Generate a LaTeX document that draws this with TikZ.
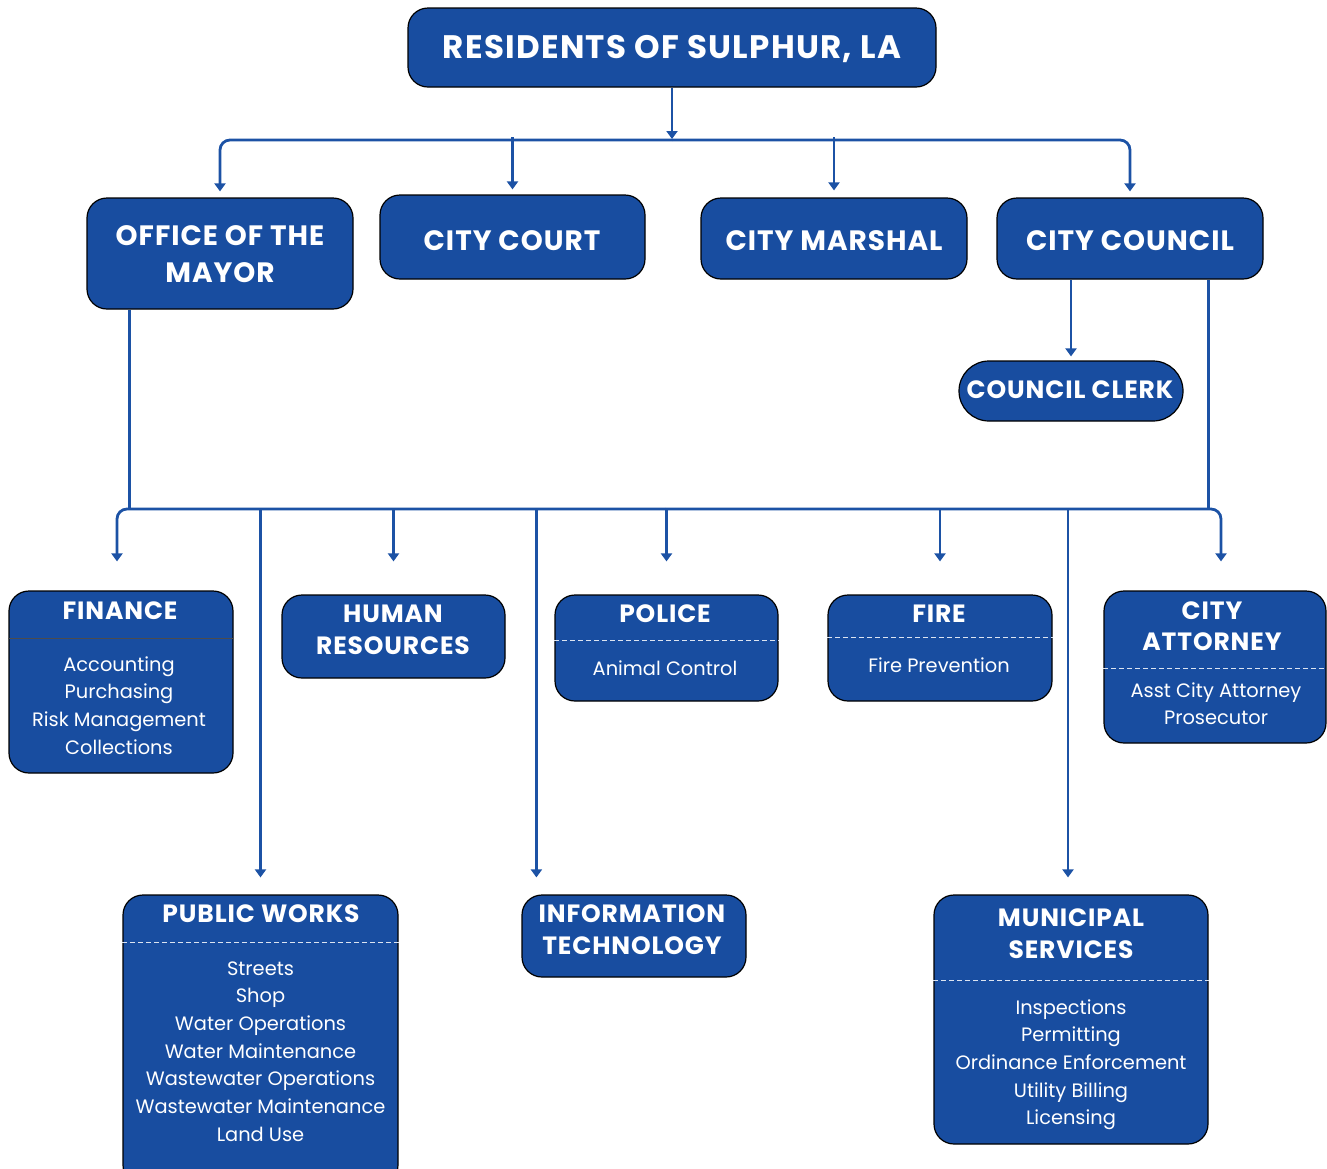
\documentclass[tikz,border=0pt]{standalone}
\usepackage{fontspec}
\setmainfont{Poppins}
\usetikzlibrary{arrows.meta}
\definecolor{boxblue}{RGB}{24,77,160}
\definecolor{lineblue}{RGB}{28,82,165}
\tikzset{
  box/.style={draw=black, line width=1.2pt, fill=boxblue, rounded corners=20pt, inner sep=0pt},
  hdA/.style={text=white, anchor=base, inner sep=0pt, font=\bfseries\fontsize{32.5}{32}\selectfont\addfontfeatures{LetterSpace=4}},
  hdB/.style={text=white, anchor=base, inner sep=0pt, font=\bfseries\fontsize{28}{28}\selectfont\addfontfeatures{LetterSpace=3.5}},
  hdC/.style={text=white, anchor=base, inner sep=0pt, font=\bfseries\fontsize{25}{25}\selectfont\addfontfeatures{LetterSpace=3.5}},
  bd/.style={text=white, anchor=base, inner sep=0pt, font=\fontsize{19.4}{20}\selectfont},
  conn/.style={draw=lineblue, line width=2.8pt},
  arr/.style={conn, -{Triangle[width=11pt,length=8pt]}},
  dashdiv/.style={draw=white!85!boxblue, line width=1pt, dash pattern=on 5pt off 3pt},
}
\begin{document}
\begin{tikzpicture}[x=1pt,y=-1pt]
\useasboundingbox (0,0) rectangle (1327,1168);
% boxes
\node[box, minimum width=528pt, minimum height=79pt] (res) at (672,47.5) {};
\node[box, minimum width=266pt, minimum height=111pt] (mayor) at (220,253.5) {};
\node[box, minimum width=265pt, minimum height=84pt] (court) at (512.5,237) {};
\node[box, minimum width=266pt, minimum height=81pt] (marshal) at (834,238.5) {};
\node[box, minimum width=266pt, minimum height=81pt] (council) at (1130,238.5) {};
\node[box, rounded corners=30pt, minimum width=224pt, minimum height=60pt] (clerk) at (1071,391) {};
\node[box, minimum width=224pt, minimum height=182pt] (finance) at (121,682) {};
\node[box, minimum width=223pt, minimum height=83pt] (hr) at (393.5,636.5) {};
\node[box, minimum width=223pt, minimum height=106pt] (police) at (666.5,648) {};
\node[box, minimum width=224pt, minimum height=106pt] (fire) at (940,648) {};
\node[box, minimum width=222pt, minimum height=152pt] (attorney) at (1215,667) {};
\node[box, minimum width=275pt, minimum height=290pt] (pw) at (260.5,1040) {};
\node[box, minimum width=224pt, minimum height=82pt] (it) at (634,936) {};
\node[box, minimum width=274pt, minimum height=249pt] (muni) at (1071,1019.5) {};
% dividers
\draw[draw=black!70, line width=0.8pt] (finance.west |- 0,638) coordinate (fd1) -- (finance.east |- fd1);
\draw[dashdiv] (police.west |- 0,640) coordinate (pd1) -- (police.east |- pd1);
\draw[dashdiv] (fire.west |- 0,637) coordinate (fd2) -- (fire.east |- fd2);
\draw[dashdiv] (attorney.west |- 0,668) coordinate (ad1) -- (attorney.east |- ad1);
\draw[dashdiv] (pw.west |- 0,942) coordinate (wd1) -- (pw.east |- wd1);
\draw[dashdiv] (muni.west |- 0,980) coordinate (md1) -- (muni.east |- md1);
% headings
\node[hdA] (tres) at (672,58.5) {RESIDENTS OF SULPHUR, LA};
\node[hdB] (tmay1) at (220,245) {OFFICE OF THE};
\node[hdB] (tmay2) at (220,282) {MAYOR};
\node[hdB] (tcourt) at (512,250) {CITY COURT};
\node[hdB] (tmar) at (834,250) {CITY MARSHAL};
\node[hdB] (tcou) at (1130,250) {CITY COUNCIL};
\node[hdC] (tclerk) at (1070,398.5) {COUNCIL CLERK};
\node[hdC] (tfin) at (120,619) {FINANCE};
\node[hdC] (thr1) at (393,622.5) {HUMAN};
\node[hdC] (thr2) at (393,654.5) {RESOURCES};
\node[hdC] (tpol) at (665,622.5) {POLICE};
\node[hdC] (tfire) at (939,622.5) {FIRE};
\node[hdC] (tatt1) at (1212,619.5) {CITY};
\node[hdC] (tatt2) at (1212,650.5) {ATTORNEY};
\node[hdC] (tpw) at (261,922.5) {PUBLIC WORKS};
\node[hdC] (tit1) at (632,922.5) {INFORMATION};
\node[hdC] (tit2) at (632,954.5) {TECHNOLOGY};
\node[hdC] (tmu1) at (1071,926.5) {MUNICIPAL};
\node[hdC] (tmu2) at (1071,958.5) {SERVICES};
% body text
\foreach \t [count=\i] in {Accounting,Purchasing,Risk Management,Collections}
  \node[bd] (bfin\i) at (119,671+27.7*\i-27.7) {\t};
\node[bd] (bpol) at (665,675) {Animal Control};
\node[bd] (bfire) at (939,672) {Fire Prevention};
\foreach \t [count=\i] in {Asst City Attorney,Prosecutor}
  \node[bd] (batt\i) at (1216,697+27.5*\i-27.5) {\t};
\foreach \t [count=\i] in {Streets,Shop,Water Operations,Water Maintenance,Wastewater Operations,Wastewater Maintenance,Land Use}
  \node[bd] (bpw\i) at (260.5,975+27.7*\i-27.7) {\t};
\foreach \t [count=\i] in {Inspections,Permitting,Ordinance Enforcement,Utility Billing,Licensing}
  \node[bd] (bmu\i) at (1071,1014+27.7*\i-27.7) {\t};
% connectors top
\coordinate (bus1) at (672,140);
\draw[arr, shorten >=1pt] (res.south) -- (bus1);
\draw[arr, rounded corners=10pt, shorten >=6pt] (bus1) -| (mayor.north);
\draw[arr, rounded corners=10pt, shorten >=6pt] (bus1) -| (council.north);
\draw[arr, shorten >=5pt] ([yshift=3pt]court.north |- bus1) -- (court.north);
\draw[arr, shorten >=7pt] ([yshift=3pt]marshal.north |- bus1) -- (marshal.north);
\draw[arr, shorten >=4pt] ([xshift=-59pt]council.south) -- ([xshift=-59pt]council.south |- clerk.north);
% second bus
\coordinate (bus2) at (665,509);
\draw[conn] ([xshift=43pt]mayor.south west) -- ([xshift=43pt]mayor.south west |- bus2);
\draw[conn] ([xshift=-55pt]council.south east) -- ([xshift=-55pt]council.south east |- bus2);
\draw[arr, rounded corners=10pt, shorten >=29pt] (bus2) -| ([xshift=-4pt]finance.north);
\draw[arr, rounded corners=10pt, shorten >=29pt] (bus2) -| ([xshift=6pt]attorney.north);
\draw[arr, shorten >=33pt] ([yshift=1pt]hr.north |- bus2) -- (hr.north);
\draw[arr, shorten >=33pt] ([yshift=1pt]police.north |- bus2) -- (police.north);
\draw[arr, shorten >=33pt] ([yshift=1pt]fire.north |- bus2) -- (fire.north);
\draw[arr, shorten >=17pt] ([yshift=1pt]pw.north |- bus2) -- (pw.north);
\draw[arr, shorten >=17pt] ([yshift=1pt,xshift=15pt]it.north west |- bus2) -- ([xshift=15pt]it.north west);
\draw[arr, shorten >=17pt] ([yshift=1pt,xshift=-3pt]muni.north |- bus2) -- ([xshift=-3pt]muni.north);
\end{tikzpicture}
\end{document}
